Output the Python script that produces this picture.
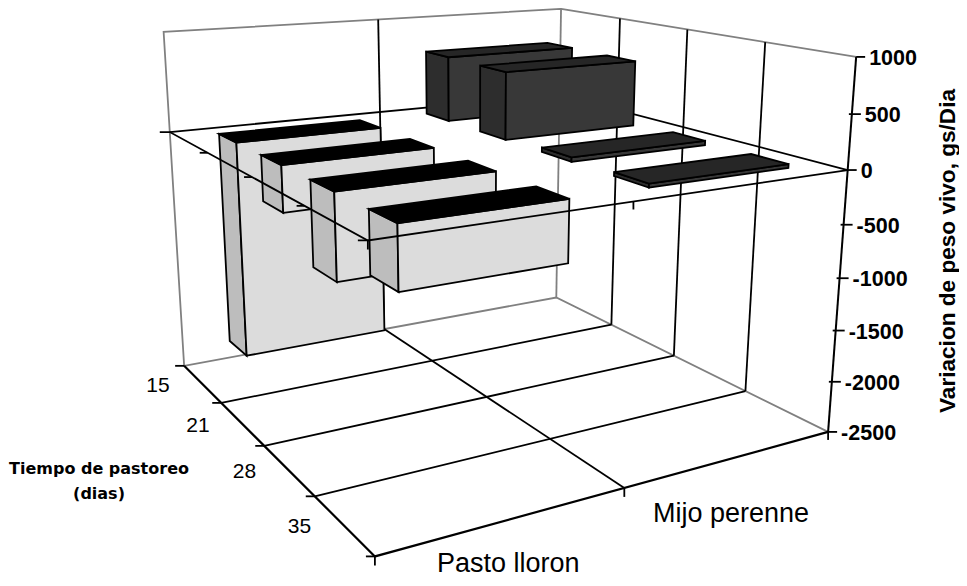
import numpy as np, altair as alt, pandas as pd

# ---- chart values ----
categories = ["Pasto lloron", "Mijo perenne"]
days = ["15", "21", "28", "35"]
pasto_values = [-2188, -440, -778, -540]
mijo_values = [670, 665, 42, 34]
z_ticks = [1000, 500, 0, -500, -1000, -1500, -2000, -2500]
y_title = "Variacion de peso vivo, gs/Dia"
x_title = ["Tiempo de pastoreo", "(dias)"]

# ---- camera: relates the 3D box (day slot, category slot, value) to the page ----
camera = [((0,0,-2500),(184,366)),((4,0,-2500),(375.7,556.7)),((4,2,-2500),(828,432.7)),((0,2,-2500),(556,298)),
((0,0,1000),(163.7,32)),((0,2,1000),(561.7,8.3)),((4,2,1000),(855.7,56.7)),
((0,0,0),(170.7,132.7)),((4,0,0),(366.7,240.7)),((4,2,0),(848.3,169)),((0,2,0),(559,95)),
((1,0,-2500),(220,402.3)),((2,0,-2500),(263,445)),((3,0,-2500),(316.7,496.7)),
((4,1,-2500),(624,487.7)),((0,1,-2500),(385,330)),((0,1,1000),(377.7,18.3)),
((1,2,-2500),(611.7,324)),((2,2,-2500),(674,355)),((3,2,-2500),(745,391)),
((1,2,1000),(620,19)),((2,2,1000),(686.7,30)),((3,2,1000),(766,43))]
A, b = [], []
for (d, c, z), (x, y) in camera:
    z = z / 1000
    A.append([d,c,z,1,0,0,0,0,-x*d,-x*c,-x*z]); b.append(x)
    A.append([0,0,0,0,d,c,z,1,-y*d,-y*c,-y*z]); b.append(y)
P = np.append(np.linalg.lstsq(np.array(A), np.array(b), rcond=None)[0], 1).reshape(3, 4)

def pr(d, c, z):
    v = P @ np.array([d, c, z / 1000, 1])
    return [float(v[0] / v[2]), float(v[1] / v[2])]

def line(pts, stroke="#000000", sw=1.8):
    return {"type": "Feature", "properties": {"stroke": stroke, "sw": sw},
            "geometry": {"type": "LineString", "coordinates": pts}}

def face(pts, fill):
    return {"type": "Feature", "properties": {"fill": fill},
            "geometry": {"type": "Polygon", "coordinates": [pts + [pts[0]]]}}

def off(p, dx=0, dy=0):
    return [p[0] + dx, p[1] + dy]

GREY = "#808080"
ZMIN, ZMAX = -2500, 1000

# walls, floor
back = []
back += [line([pr(0,0,ZMIN), pr(0,0,ZMAX), pr(0,2,ZMAX), pr(4,2,ZMAX)], GREY, 1.8)]
back += [line([pr(0,0,ZMIN), pr(0,2,ZMIN), pr(4,2,ZMIN)], GREY, 1.8)]
back += [line([pr(0,2,ZMIN), pr(0,2,ZMAX)], GREY, 1.8)]
back += [line([pr(0,1,ZMIN), pr(0,1,ZMAX)])]
for i in (1, 2, 3):
    back += [line([pr(i,2,ZMIN), pr(i,2,ZMAX)])]
    back += [line([pr(i,0,ZMIN), pr(i,2,ZMIN)])]
back += [line([pr(0,1,ZMIN), pr(4,1,ZMIN)])]
back += [line([pr(0,0,ZMIN), pr(4,0,ZMIN), pr(4,2,ZMIN)], sw=2.2)]
back += [line([pr(4,2,ZMIN), pr(4,2,ZMAX)], sw=2)]
# floor ticks
for i in range(5):
    back += [line([pr(i,0,ZMIN), off(pr(i,0,ZMIN), -9, 0)])]
back += [line([pr(4,0,ZMIN), off(pr(4,0,ZMIN), 0, 9)])]
back += [line([pr(4,1,ZMIN), off(pr(4,1,ZMIN), 0, 9)])]
back += [line([pr(4,2,ZMIN), off(pr(4,2,ZMIN), 0, 8)])]
# value ticks
for v in z_ticks:
    q = pr(4,2,v)
    lo = 0 if v in (ZMIN, ZMAX) else -3
    back += [line([off(q, lo, 0), off(q, 9, 0)])]
# zero plane, rear edges
back += [line([pr(0,0,0), pr(0,2,0), pr(4,2,0)])]

# bars, painted from the back to the front
faces = []
C_LO, C_HI, D_LO, D_HI = 0.17, 0.83, 0.29, 0.72
def bar(d, c, v, top, side, front):
    z0, z1 = min(0, v), max(0, v)
    a, e = d + D_LO, d + D_HI
    g, h = c + C_LO, c + C_HI
    return [face([pr(a,g,z0), pr(e,g,z0), pr(e,g,z1), pr(a,g,z1)], side),
            face([pr(e,g,z0), pr(e,h,z0), pr(e,h,z1), pr(e,g,z1)], front),
            face([pr(a,g,z1), pr(e,g,z1), pr(e,h,z1), pr(a,h,z1)], top)]
for i, v in enumerate(mijo_values):
    faces += bar(i, 1, v, "#262626", "#2d2d2d", "#383838")
for i, v in enumerate(pasto_values):
    faces += bar(i, 0, v, "#000000", "#bdbdbd", "#dcdcdc")

# zero plane, front edges and their ticks, on top of the bars
fore = [line([off(pr(0,0,0), -10, 0), pr(0,0,0), pr(4,0,0), pr(4,2,0)])]
for i in (1, 2, 3):
    fore += [line([pr(i,0,0), off(pr(i,0,0), -8, 0)])]
fore += [line([off(pr(4,0,0), -10, 0), pr(4,0,0), off(pr(4,0,0), 0, 9)])]
fore += [line([pr(4,1,0), off(pr(4,1,0), 0, 8)])]

proj = dict(type="identity", scale=1, translate=[-8, -8])

def geo_lines(feats):
    return alt.Chart(alt.Data(values=feats)).mark_geoshape(filled=False).encode(
        stroke=alt.Stroke("properties.stroke:N", scale=None),
        strokeWidth=alt.StrokeWidth("properties.sw:Q", scale=None),
    ).project(**proj)

geo_faces = alt.Chart(alt.Data(values=faces)).mark_geoshape(stroke="#000000", strokeWidth=1.8).encode(
    fill=alt.Fill("properties.fill:N", scale=None),
).project(**proj)

def labels(rows, **kw):
    df = pd.DataFrame(rows, columns=["t", "lon", "lat"])
    return alt.Chart(df).mark_text(**kw).encode(
        longitude="lon:Q", latitude="lat:Q", text="t:N").project(**proj)

z_rows = [(str(v), *off(pr(4,2,v), 13, 2)) for v in z_ticks]
day_rows = [(t, *off(pr(i + 0.5, 0, ZMIN), -44, 2)) for i, t in enumerate(days)]
cat_rows = [(categories[0], *off(pr(4, 0.5, ZMIN), 2, 43.5)), (categories[1], *off(pr(4, 1.5, ZMIN), 0, 55))]

layers = [
    geo_lines(back), geo_faces, geo_lines(fore),
    labels(z_rows, align="left", baseline="middle", font="Liberation Sans", fontWeight="bold", fontSize=21.5, color="#000000"),
    labels(day_rows, align="center", baseline="middle", font="Liberation Sans", fontSize=21, color="#000000"),
    labels(cat_rows, align="center", baseline="middle", font="Liberation Sans", fontSize=27, color="#000000"),
    labels([(x_title[0], 99, 469), (x_title[1], 99, 494)], align="center", baseline="middle",
           font="DejaVu Sans", fontWeight="bold", fontSize=16, color="#000000"),
    labels([(y_title, 948, 251)], align="center", baseline="middle", angle=270,
           font="Liberation Sans", fontWeight="bold", fontSize=22.6, color="#000000"),
]
chart = alt.layer(*layers).properties(
    width=951, height=570, padding=0, autosize=alt.AutoSizeParams(type="none"), background="#ffffff",
).configure_view(stroke=None)
chart.save("out.html", embed_options={"renderer": "svg", "actions": False})
